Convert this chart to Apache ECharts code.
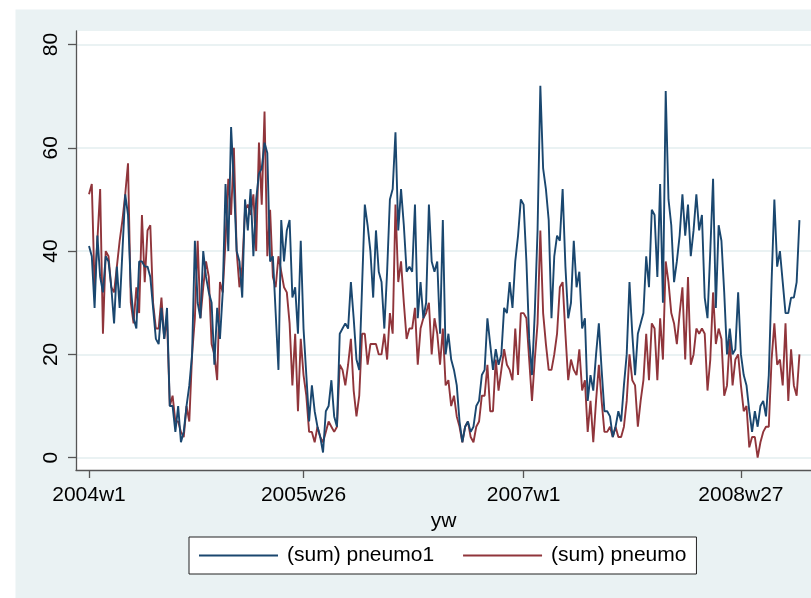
<!DOCTYPE html>
<html>
<head>
<meta charset="utf-8">
<script src="https://cdn.jsdelivr.net/npm/echarts@6/dist/echarts.min.js"></script>
<style>
  html, body { margin: 0; padding: 0; background: #ffffff; }
  #chart { width: 811px; height: 598px; }
</style>
</head>
<body>
<div id="chart"></div>
<script>
// Weekly counts, first week 2004w1 (one value per week)
const startYear = 2004;
const pneumo1 = [
  41, 39, 29, 43, 35, 32, 39, 38, 33, 26,
  37, 29, 40, 51, 47, 33, 27, 25, 38, 38,
  37, 37, 35, 29, 23, 22, 29, 23, 29, 10,
  10, 5, 10, 3, 5, 10, 14, 20, 42, 30,
  27, 40, 35, 32, 30, 18, 29, 23, 32, 53,
  40, 64, 53, 40, 38, 31, 50, 44, 52, 39,
  50, 55, 56, 61, 59, 38, 39, 28, 17, 46,
  38, 44, 46, 31, 33, 24, 42, 25, 16, 7,
  14, 9, 6, 4, 1, 9, 10, 15, 8, 6,
  24, 25, 26, 25, 34, 27, 19, 17, 33, 49,
  45, 40, 31, 44, 36, 34, 25, 36, 50, 52,
  63, 44, 52, 45, 36, 37, 36, 49, 27, 34,
  27, 30, 49, 38, 36, 38, 24, 46, 20, 24,
  19, 17, 14, 7, 3, 6, 7, 5, 6, 10,
  11, 16, 17, 27, 22, 17, 21, 18, 20, 29,
  28, 34, 29, 38, 43, 50, 49, 38, 23, 16,
  28, 44, 72, 56, 52, 46, 27, 39, 43, 42,
  52, 37, 27, 30, 42, 33, 36, 25, 27, 11,
  16, 13, 20, 26, 17, 9, 9, 8, 4, 6,
  9, 7, 14, 20, 34, 24, 16, 24, 26, 28,
  39, 33, 48, 47, 35, 53, 30, 71, 50, 45,
  34, 38, 43, 51, 43, 49, 39, 44, 51, 44,
  47, 31, 27, 40, 54, 29, 45, 42, 32, 20,
  25, 20, 21, 32, 20, 16, 14, 9, 5, 9,
  6, 10, 11, 8, 16, 34, 50, 37, 40, 34,
  28, 28, 31, 31, 34, 46
];
const pneumo = [
  51, 53, 33, 42, 52, 24, 40, 39, 33, 32,
  37, 42, 46, 51, 57, 30, 26, 33, 28, 47,
  34, 44, 45, 30, 25, 25, 31, 23, 27, 10,
  12, 7, 7, 5, 4, 10, 7, 20, 27, 42,
  27, 33, 38, 35, 22, 20, 15, 34, 32, 42,
  54, 47, 60, 40, 33, 37, 48, 49, 47, 51,
  40, 61, 49, 67, 39, 48, 35, 33, 39, 36,
  33, 32, 26, 14, 24, 9, 23, 16, 12, 5,
  5, 3, 6, 4, 3, 5, 7, 6, 5, 6,
  18, 17, 14, 18, 23, 13, 8, 12, 24, 24,
  18, 22, 22, 22, 20, 20, 24, 19, 28, 24,
  49, 34, 38, 30, 23, 25, 25, 29, 18, 25,
  27, 28, 30, 20, 27, 24, 18, 25, 14, 15,
  10, 12, 8, 6, 3, 6, 7, 4, 3, 6,
  7, 12, 12, 18, 9, 9, 19, 13, 17, 21,
  18, 17, 15, 25, 16, 28, 28, 27, 19, 11,
  19, 26, 44, 28, 22, 17, 17, 20, 24, 33,
  34, 24, 15, 19, 17, 16, 21, 13, 15, 5,
  11, 3, 11, 18, 11, 5, 5, 6, 4, 6,
  4, 4, 6, 11, 20, 15, 14, 6, 11, 15,
  24, 15, 26, 25, 15, 27, 19, 38, 34, 28,
  26, 22, 28, 33, 19, 35, 18, 20, 25, 24,
  25, 24, 13, 19, 32, 22, 25, 23, 12, 14,
  23, 14, 19, 20, 14, 9, 10, 2, 4, 4,
  0, 3, 5, 6, 6, 19, 26, 18, 19, 14,
  26, 11, 21, 14, 12, 20
];
const seriesNames = ['(sum) pneumo1', '(sum) pneumo'];
const xTickLabels = ['2004w1', '2005w26', '2007w1', '2008w27'];
const yTicks = [0, 20, 40, 60, 80];

// Stata-style weekly dates: 52 weeks per year, index 0 = 2004w1
function weekIndex(label) {
  const m = label.match(/^(\d+)w(\d+)$/);
  return (parseInt(m[1], 10) - startYear) * 52 + parseInt(m[2], 10) - 1;
}
function weekLabel(i) {
  return (startYear + Math.floor(i / 52)) + 'w' + (i % 52 + 1);
}
const xTicks = xTickLabels.map(weekIndex);
const toPoints = arr => arr.map((v, i) => [i, v]);

const FONT = '"Liberation Sans", Arial, sans-serif';
const chart = echarts.init(document.getElementById('chart'), null, { renderer: 'canvas' });

chart.setOption({
  backgroundColor: '#ffffff',
  animation: false,
  color: ['#1A476F', '#90353B'],
  graphic: [{
    type: 'rect',
    z: -100,
    shape: { x: 15.5, y: 9.5, width: 800, height: 600 },
    style: { fill: '#EAF2F3' }
  }],
  grid: {
    left: 76, right: 0, top: 31, bottom: 128,
    show: true, backgroundColor: '#ffffff', borderWidth: 0
  },
  xAxis: {
    type: 'value',
    min: -4.67, max: 259.15,
    name: 'yw',
    nameLocation: 'middle',
    nameGap: 32,
    nameTextStyle: { fontFamily: FONT, fontSize: 21, color: '#000' },
    axisLine: { show: true, onZero: false, lineStyle: { color: '#555', width: 1.3 } },
    axisTick: { show: true, customValues: xTicks, length: 8, lineStyle: { color: '#555', width: 1.3 } },
    axisLabel: {
      customValues: xTicks,
      formatter: v => weekLabel(Math.round(v)),
      fontFamily: FONT, fontSize: 21, color: '#000', margin: 15
    },
    splitLine: { show: false }
  },
  yAxis: {
    type: 'value',
    min: -2.38, max: 82.61,
    axisLine: { show: true, onZero: false, lineStyle: { color: '#555', width: 1.3 } },
    axisTick: { show: true, customValues: yTicks, length: 8, lineStyle: { color: '#555', width: 1.3 } },
    axisLabel: {
      customValues: yTicks,
      rotate: 90,
      fontFamily: FONT, fontSize: 21, color: '#000', margin: 14
    },
    splitLine: { show: true, lineStyle: { color: '#EAF2F3', width: 2 } }
  },
  legend: {
    left: 189, top: 537,
    padding: [8, 10, 8, 9],
    itemWidth: 79, itemHeight: 20,
    itemGap: 28,
    backgroundColor: '#ffffff',
    borderColor: '#222', borderWidth: 1,
    itemStyle: { opacity: 0 },
    textStyle: { fontFamily: FONT, fontSize: 21, color: '#000', padding: [0, 0, 0, 4] },
    data: seriesNames
  },
  series: [
    {
      name: seriesNames[0], type: 'line', data: toPoints(pneumo1),
      showSymbol: false, symbol: 'none',
      lineStyle: { width: 1.9, color: '#1A476F' }, z: 3
    },
    {
      name: seriesNames[1], type: 'line', data: toPoints(pneumo),
      showSymbol: false, symbol: 'none',
      lineStyle: { width: 1.9, color: '#90353B' }, z: 2
    }
  ]
});
</script>
</body>
</html>
